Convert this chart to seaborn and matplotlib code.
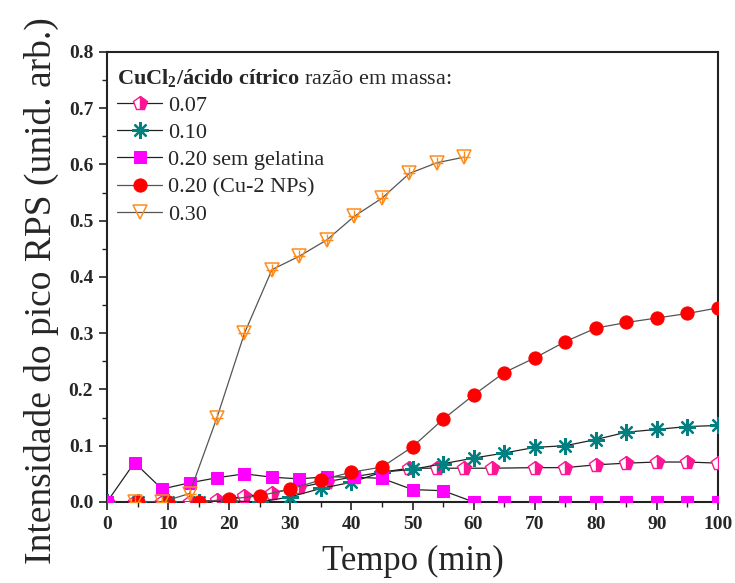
import matplotlib
matplotlib.use("Agg")
import matplotlib.pyplot as plt
from matplotlib.ticker import MultipleLocator, FormatStrFormatter
import seaborn as sns

# Sampling times (min) and SPR peak intensities for each CuCl2/citric-acid ratio
t_007 = [0, 4.5, 9, 13.5, 18, 22.5, 27, 31.5, 36, 40.5, 45, 49.5, 54, 58.5, 63,
         70, 75, 80, 85, 90, 95, 100]
y_007 = [0.0, 0.0, 0.0, 0.0, 0.003, 0.010, 0.016, 0.026, 0.036, 0.045, 0.053,
         0.060, 0.060, 0.060, 0.060, 0.061, 0.061, 0.066, 0.069, 0.071, 0.071, 0.069]

t_010 = [0, 5, 10, 15, 20, 25, 30, 35, 40, 45, 50, 55, 60, 65, 70, 75, 80, 85,
         90, 95, 100]
y_010 = [0.0, 0.0, 0.0, 0.0, 0.002, 0.0, 0.009, 0.024, 0.035, 0.053, 0.058,
         0.068, 0.078, 0.087, 0.097, 0.100, 0.111, 0.124, 0.129, 0.134, 0.136]

t_020sg = [0, 4.5, 9, 13.5, 18, 22.5, 27, 31.5, 36, 40.5, 45, 50, 55, 60, 65,
           70, 75, 80, 85, 90, 95, 100]
y_020sg = [0.0, 0.070, 0.023, 0.034, 0.043, 0.050, 0.044, 0.041, 0.045, 0.044,
           0.042, 0.022, 0.020, 0.0, 0.0, 0.0, 0.0, 0.0, 0.0, 0.0, 0.0, 0.0]

t_020np = [5, 10, 15, 20, 25, 30, 35, 40, 45, 50, 55, 60, 65, 70, 75, 80, 85,
           90, 95, 100]
y_020np = [0.0, 0.0, 0.0, 0.005, 0.011, 0.023, 0.039, 0.053, 0.062, 0.098,
           0.147, 0.190, 0.230, 0.256, 0.285, 0.309, 0.319, 0.327, 0.335, 0.345]

t_030 = [4.5, 9, 13.5, 18, 22.5, 27, 31.5, 36, 40.5, 45, 49.5, 54, 58.5]
y_030 = [0.0, 0.0, 0.015, 0.150, 0.300, 0.413, 0.437, 0.466, 0.508, 0.540,
         0.584, 0.603, 0.613]

labels = ["0.07", "0.10", "0.20 sem gelatina", "0.20 (Cu-2 NPs)", "0.30"]

sns.set_theme(style="ticks")
plt.rcParams["font.family"] = ["Liberation Serif", "DejaVu Serif"]
plt.rcParams["mathtext.fontset"] = "custom"
plt.rcParams["mathtext.rm"] = "Liberation Serif"
plt.rcParams["mathtext.it"] = "Liberation Serif:italic"
plt.rcParams["mathtext.bf"] = "Liberation Serif:bold"

fig = plt.figure(figsize=(7.35, 5.83), dpi=100)
ax = fig.add_axes([0.1456, 0.139, 0.8313, 0.772])

# 0.07: half-filled pink pentagons
sns.lineplot(x=t_007, y=y_007, ax=ax, color="#222222", lw=0.9,
             marker="p", markersize=10, fillstyle="right",
             markerfacecolor="#FF1493", markerfacecoloralt="white",
             markeredgecolor="#FF1493", markeredgewidth=1.0,
             label=labels[0], zorder=3)

# 0.10: teal asterisks
sns.lineplot(x=t_010, y=y_010, ax=ax, color="#222222", lw=0.9,
             marker=(8, 2, 0), markersize=12,
             markeredgecolor="#008080", markerfacecolor="#008080",
             markeredgewidth=1.6, label=labels[1], zorder=3)

# 0.20 without gelatin: magenta squares
sns.lineplot(x=t_020sg, y=y_020sg, ax=ax, color="#222222", lw=0.9,
             marker="s", markersize=8.5,
             markerfacecolor="#FF00FF", markeredgecolor="#FF00FF",
             label=labels[2], zorder=3)

# 0.20 (Cu-2 NPs): red circles
sns.lineplot(x=t_020np, y=y_020np, ax=ax, color="#555555", lw=0.9,
             marker="o", markersize=9.5,
             markerfacecolor="#FF0000", markeredgecolor="#FF0000",
             label=labels[3], zorder=3)

# 0.30: open orange down-triangles with a cross
sns.lineplot(x=t_030, y=y_030, ax=ax, color="#555555", lw=0.9,
             marker="v", markersize=10,
             markerfacecolor="none", markeredgecolor="#FF8C1A",
             markeredgewidth=1.1, label=labels[4], zorder=3)
ax.plot(t_030, y_030, ls="none", marker="+", markersize=9,
        markeredgecolor="#FF8C1A", markeredgewidth=1.0, zorder=3)

ax.set_xlim(0, 100)
ax.set_ylim(0, 0.8)
ax.xaxis.set_major_locator(MultipleLocator(10))
ax.xaxis.set_minor_locator(MultipleLocator(5))
ax.yaxis.set_major_locator(MultipleLocator(0.1))
ax.yaxis.set_minor_locator(MultipleLocator(0.05))
ax.yaxis.set_major_formatter(FormatStrFormatter("%.1f"))
ax.xaxis.set_major_formatter(FormatStrFormatter("%d"))
ax.tick_params(which="major", direction="out", length=6, width=1.2,
               labelsize=14, color="#222222", pad=4)
ax.tick_params(which="minor", direction="out", length=3.5, width=1.0,
               color="#222222")
for lab in ax.get_xticklabels() + ax.get_yticklabels():
    lab.set_fontweight("bold")

for side in ["top", "right", "left", "bottom"]:
    ax.spines[side].set_visible(True)
    ax.spines[side].set_linewidth(1.5)
    ax.spines[side].set_color("#222222")

ax.set_xlabel("Tempo (min)", fontsize=25, labelpad=9)
ax.set_ylabel("Intensidade do pico RPS (unid. arb.)", fontsize=27)
ax.yaxis.set_label_coords(-0.078, 0.47)

leg = ax.legend(loc="upper left", bbox_to_anchor=(-0.005, 0.997),
                frameon=False, fontsize=16, numpoints=1, handlelength=2.0,
                handletextpad=0.3, labelspacing=0.3, borderaxespad=0.2,
                title=r"$\mathbf{CuCl_2/ácido\ cítrico}$ razão em massa:",
                title_fontsize=16, alignment="left")

fig.savefig("out.png", dpi=100)
